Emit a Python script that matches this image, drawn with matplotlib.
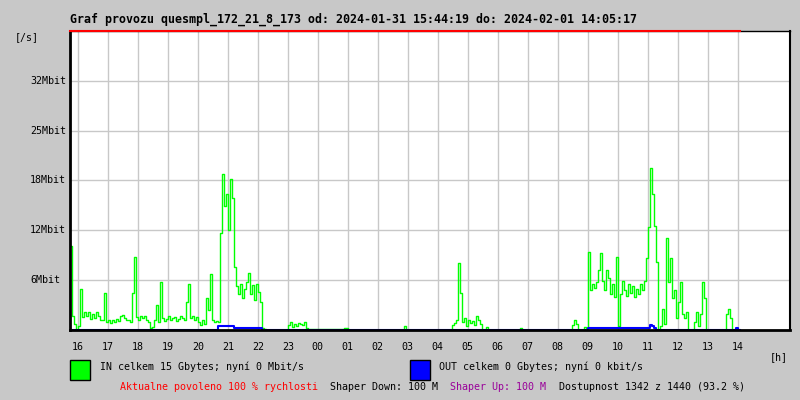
import numpy as np
import matplotlib
matplotlib.use("Agg")
import matplotlib.pyplot as plt
import matplotlib.transforms as mtransforms

# time axis: hours since midnight of 2024-01-31, one sample every 4 minutes
start_h = 15 + 44/60 + 19/3600
end_h = 24 + 14 + 5/60 + 17/3600
step_h = 4/60

# IN traffic [Mbit/s]
traffic_in = [10.5, 1.7, 0.8, 0.0, 0.5, 5.2, 1.6, 2.3, 1.8, 2.2,
              1.4, 2.0, 1.5, 2.3, 1.7, 1.2, 1.3, 4.6, 1.0, 1.3,
              0.9, 1.2, 1.0, 1.4, 1.1, 1.8, 1.9, 1.5, 1.2, 1.3,
              1.0, 4.6, 9.1, 1.6, 1.3, 1.8, 1.5, 1.7, 1.2, 1.0,
              0.2, 0.4, 1.2, 3.1, 1.0, 6.0, 1.5, 1.1, 1.4, 1.7,
              1.2, 1.5, 1.6, 1.1, 1.4, 1.8, 1.5, 1.2, 3.5, 5.8,
              1.5, 1.7, 1.3, 1.6, 1.0, 0.6, 1.3, 0.8, 4.0, 2.5,
              7.0, 1.2, 1.0, 1.1, 1.0, 12.2, 19.6, 15.5, 17.0, 12.5,
              18.9, 16.5, 7.9, 5.5, 4.5, 5.8, 4.0, 5.2, 6.0, 7.2,
              4.5, 5.6, 3.8, 5.8, 4.8, 3.5, 0.2, 0.1, 0.0, 0.0,
              0.0, 0.0, 0.0, 0.0, 0.0, 0.0, 0.0, 0.0, 0.0, 0.6,
              1.0, 0.4, 0.8, 0.5, 0.9, 0.7, 0.6, 1.0, 0.3, 0.1,
              0.1, 0.1, 0.1, 0.1, 0.1, 0.1, 0.1, 0.1, 0.1, 0.1,
              0.1, 0.1, 0.1, 0.1, 0.1, 0.1, 0.1, 0.3, 0.2, 0.0,
              0.0, 0.0, 0.0, 0.0, 0.0, 0.0, 0.0, 0.0, 0.0, 0.0,
              0.0, 0.0, 0.0, 0.0, 0.0, 0.0, 0.0, 0.0, 0.0, 0.0,
              0.0, 0.0, 0.0, 0.0, 0.0, 0.0, 0.0, 0.5, 0.0, 0.0,
              0.0, 0.0, 0.0, 0.0, 0.0, 0.0, 0.0, 0.0, 0.0, 0.0,
              0.0, 0.0, 0.0, 0.0, 0.0, 0.0, 0.0, 0.0, 0.0, 0.0,
              0.0, 0.6, 0.9, 1.2, 8.4, 4.6, 1.0, 1.5, 0.5, 1.2,
              0.9, 1.1, 0.6, 1.75, 1.2, 0.8, 0.0, 0.0, 0.4, 0.0,
              0.0, 0.0, 0.0, 0.0, 0.0, 0.0, 0.0, 0.0, 0.0, 0.0,
              0.0, 0.0, 0.0, 0.0, 0.0, 0.2, 0.0, 0.0, 0.0, 0.0,
              0.0, 0.0, 0.0, 0.0, 0.0, 0.0, 0.0, 0.0, 0.0, 0.0,
              0.0, 0.0, 0.0, 0.0, 0.0, 0.0, 0.0, 0.0, 0.0, 0.0,
              0.0, 0.6, 1.2, 0.8, 0.0, 0.0, 0.0, 0.4, 0.3, 9.75,
              5.0, 5.8, 5.3, 6.0, 7.5, 9.7, 6.2, 5.0, 7.5, 6.5,
              4.5, 5.8, 4.2, 9.1, 0.5, 4.5, 6.2, 5.0, 4.3, 5.8,
              4.6, 5.5, 4.2, 5.2, 4.5, 5.8, 5.0, 6.2, 9.0, 12.9,
              20.3, 17.0, 13.0, 8.5, 0.0, 0.5, 2.6, 0.8, 11.6, 6.0,
              9.0, 4.0, 5.0, 1.5, 3.5, 6.0, 2.0, 1.5, 2.2, 0.0,
              0.0, 0.0, 1.0, 2.2, 0.5, 2.0, 6.0, 4.0, 0.0, 0.0,
              0.0, 0.0, 0.0, 0.0, 0.0, 0.0, 0.0, 0.0, 2.0, 2.6,
              1.5, 0.0, 0.0, 0.0, 0.0, 0.0]

# OUT traffic [Mbit/s]
traffic_out = [0.0]*74 + [0.5]*8 + [0.2]*14 + [0.0]*163 \
    + [0.25]*31 + [0.6, 0.5, 0.2] + [0.0]*40 + [0.2, 0.0, 0.0]

hour_ticks = list(range(16, 39))
hour_labels = ["%02d" % (h % 24) for h in hour_ticks]
y_ticks = [6.25, 12.5, 18.75, 25.0, 31.25]
y_labels = ["6Mbit", "12Mbit", "18Mbit", "25Mbit", "32Mbit"]
y_max = 37.5

title = "Graf provozu quesmpl_172_21_8_173 od: 2024-01-31 15:44:19 do: 2024-02-01 14:05:17"
in_text = "IN celkem 15 Gbytes; nyní 0 Mbit/s"
out_text = "OUT celkem 0 Gbytes; nyní 0 kbit/s"

bg = "#c8c8c8"
mono = "DejaVu Sans Mono"

t = start_h + step_h*np.arange(len(traffic_in))

fig = plt.figure(figsize=(8, 4), dpi=100, facecolor=bg)
ax = fig.add_axes([70/800, 70/400, 720/800, 299/400])
ax.set_facecolor("white")

ax.set_xlim(start_h, start_h + 24)
ax.set_ylim(0, y_max)
ax.set_xticks(hour_ticks)
ax.set_yticks(y_ticks)
ax.grid(True, color="#c8c8c8", linewidth=1)
ax.set_axisbelow(True)
ax.tick_params(length=0, labelleft=False, labelbottom=False)

ax.plot(t, traffic_in, color="#00ff00", linewidth=1, drawstyle="steps-post")
ax.plot(t, traffic_out, color="#0000ff", linewidth=1.5, drawstyle="steps-post")

# 100 M limit line at top
ax.plot([start_h, end_h], [y_max, y_max], color="red", linewidth=1.5, clip_on=False, zorder=5)

for s in ax.spines.values():
    s.set_color("black")
ax.spines["left"].set_linewidth(2)
ax.spines["bottom"].set_linewidth(2)
ax.spines["right"].set_linewidth(1.5)
ax.spines["top"].set_linewidth(1)

# axis labels
ytrans = mtransforms.blended_transform_factory(fig.transFigure, ax.transData)
for v, lab in zip(y_ticks, y_labels):
    ax.text(30/800, v, lab, transform=ytrans, ha="left", va="center",
            fontsize=7.2, family=mono)
xtrans = mtransforms.blended_transform_factory(ax.transData, fig.transFigure)
for h, lab in zip(hour_ticks, hour_labels):
    ax.text(h, 1 - 347/400, lab, transform=xtrans, ha="center", va="center",
            fontsize=7.2, family=mono)

fig.text(15/800, 1 - 37/400, "[/s]", ha="left", va="center", fontsize=7.2, family=mono)
fig.text(770/800, 1 - 357/400, "[h]", ha="left", va="center", fontsize=7.2, family=mono)
fig.text(70/800, 1 - 19/400, title, ha="left", va="center", fontsize=8.4,
         family=mono, weight="bold")

# legend
fig.patches.append(plt.Rectangle((70/800, 1 - 380/400), 20/800, 20/400, transform=fig.transFigure,
                                 facecolor="#00ff00", edgecolor="black", linewidth=1))
fig.patches.append(plt.Rectangle((410/800, 1 - 380/400), 20/800, 20/400, transform=fig.transFigure,
                                 facecolor="#0000ff", edgecolor="black", linewidth=1))
fig.text(100/800, 1 - 367/400, in_text, ha="left", va="center", fontsize=7.2, family=mono)
fig.text(439/800, 1 - 367/400, out_text, ha="left", va="center", fontsize=7.2, family=mono)

yb = 1 - 387/400
fig.text(120/800, yb, "Aktualne povoleno 100 % rychlosti", color="red",
         ha="left", va="center", fontsize=7.2, family=mono)
fig.text(330/800, yb, "Shaper Down: 100 M", ha="left", va="center", fontsize=7.2, family=mono)
fig.text(450/800, yb, "Shaper Up: 100 M", color="#990099", ha="left", va="center",
         fontsize=7.2, family=mono)
fig.text(559/800, yb, "Dostupnost 1342 z 1440 (93.2 %)", ha="left", va="center",
         fontsize=7.2, family=mono)

fig.savefig("out.png", dpi=100, facecolor=bg)
